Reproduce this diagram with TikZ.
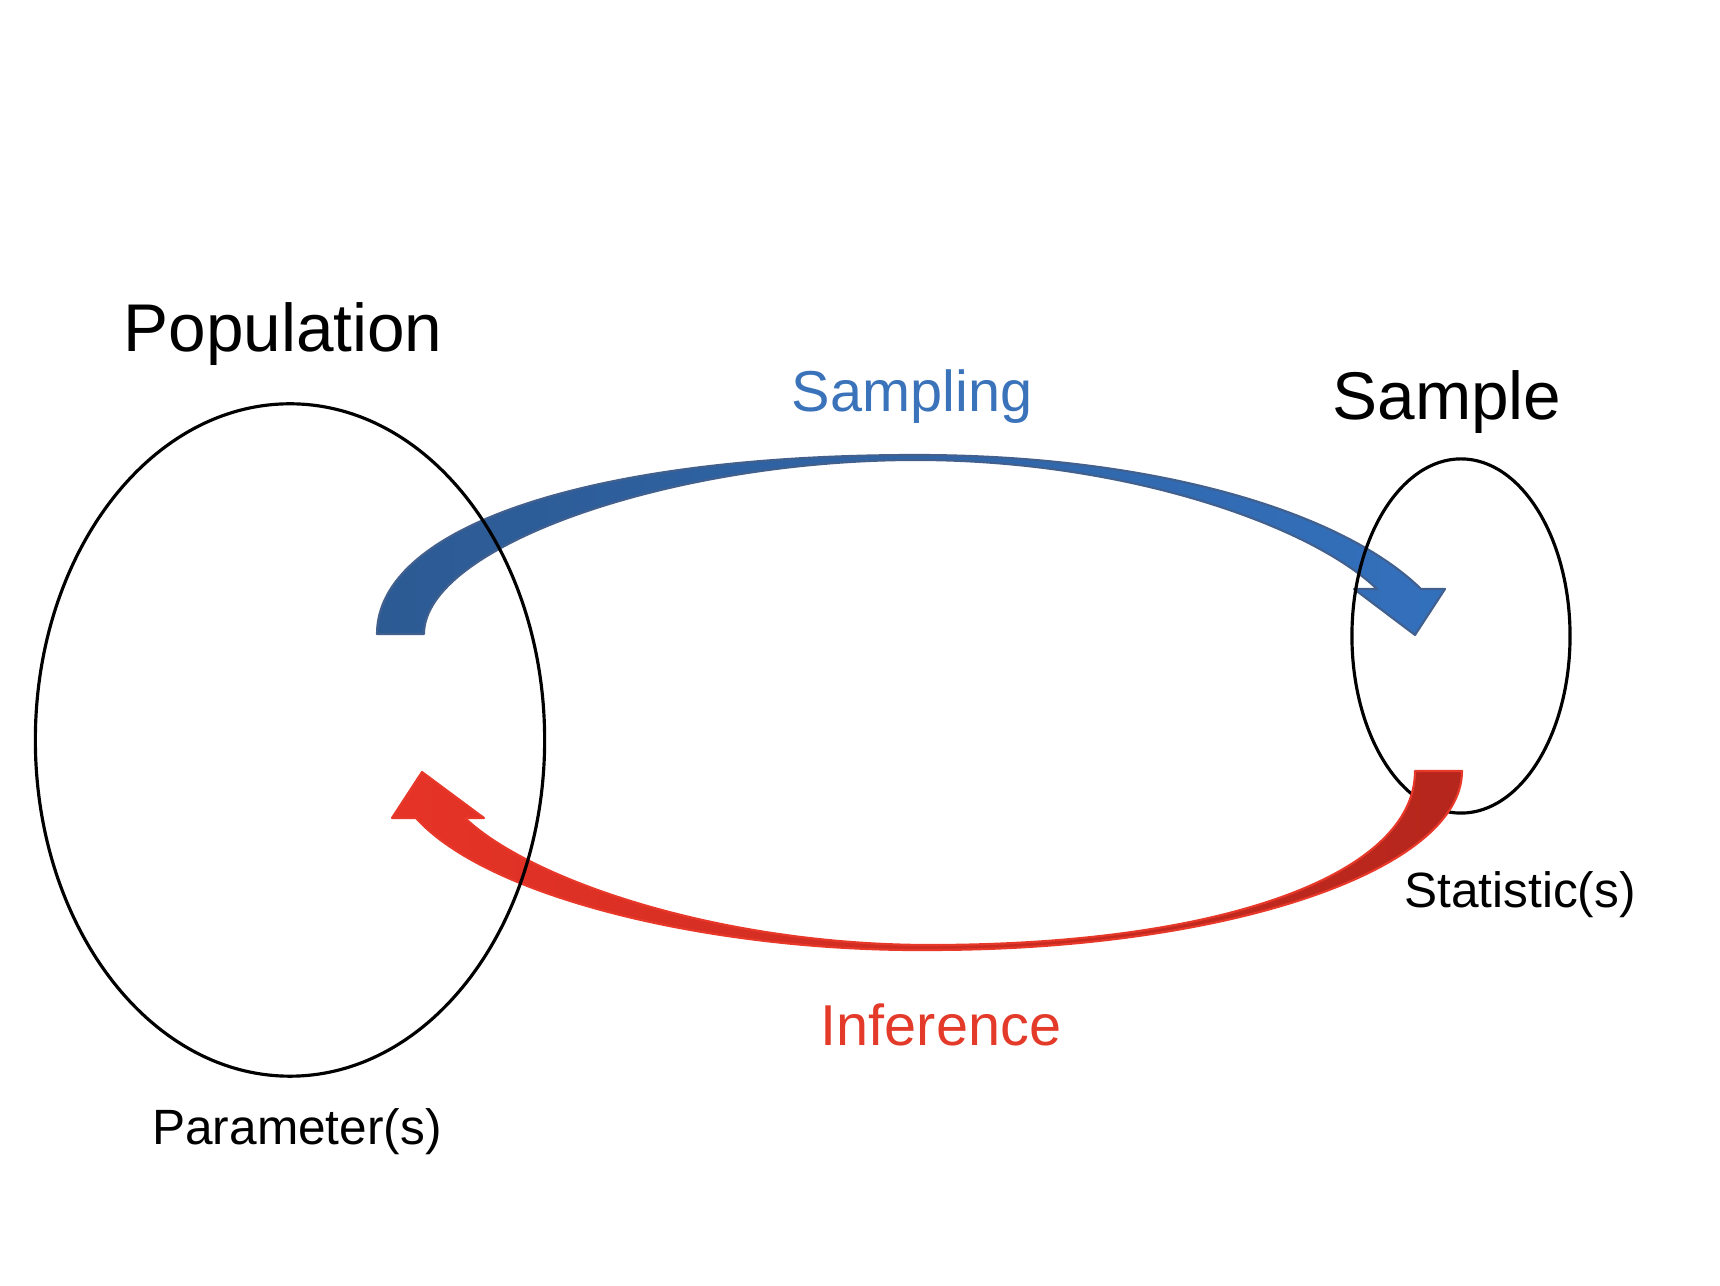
\documentclass[tikz,border=0pt]{standalone}
\usepackage{fontspec}
\setmainfont{Liberation Sans}
\usetikzlibrary{shapes.geometric}
\definecolor{bluedark}{HTML}{2C5A93}
\definecolor{bluelight}{HTML}{3370BC}
\definecolor{blueedge}{HTML}{41608E}
\definecolor{redbright}{HTML}{E63327}
\definecolor{reddark}{HTML}{B5261C}
\definecolor{rededge}{HTML}{E8382A}
\definecolor{sampletext}{HTML}{3A73BA}
\definecolor{infertext}{HTML}{E33A2A}
\tikzset{
  bigtitle/.style={anchor=base, inner sep=0pt, font=\fontsize{19.2pt}{23pt}\selectfont},
  arrowlabel/.style={anchor=base, inner sep=0pt, font=\fontsize{16.4pt}{20pt}\selectfont},
  smalllabel/.style={anchor=base, inner sep=0pt, font=\fontsize{14.1pt}{17pt}\selectfont},
  setshape/.style={ellipse, draw=black, line width=0.9pt, inner sep=0pt},
  bluearrow/.style={left color=bluedark, right color=bluelight, draw=blueedge, line width=0.6pt, line join=round},
  redarrow/.style={left color=redbright, middle color=redbright, right color=reddark, draw=rededge, line width=0.6pt, line join=round}
}
\begin{document}
\begin{tikzpicture}[x=0.01cm,y=-0.01cm]
\useasboundingbox (0,0) rectangle (1720,1286);

% Sampling arrow
\path[bluearrow] (377,634)
  .. controls (377,526) and (593,455) .. (916,455)
  .. controls (1150,455) and (1340,510) .. (1421,589)
  -- (1445,589) -- (1415,635) -- (1354,589) -- (1377,589)
  .. controls (1310,525) and (1125,460) .. (916,460)
  .. controls (670,460) and (424,547) .. (424,634)
  -- cycle;

% Sample ellipse
\node[setshape, minimum width=2.18cm, minimum height=3.54cm] (sample) at (1461,636) {};

% Inference arrow
\path[redarrow] (1415,771) -- (1462,771)
  .. controls (1462,870) and (1228,950) .. (930,950)
  .. controls (720,952) and (490,900) .. (416,818)
  -- (392,818) -- (422,772) -- (484,818) -- (465,818)
  .. controls (530,880) and (720,945) .. (930,945)
  .. controls (1221,945) and (1415,875) .. (1415,771)
  -- cycle;

% Population ellipse
\node[setshape, minimum width=5.09cm, minimum height=6.72cm] (population) at (290,740) {};

% Labels
\node[bigtitle] (poptitle) at (283,352) {Population};
\node[bigtitle] (samptitle) at (1447,420) {Sample};
\node[arrowlabel, text=sampletext] (sampling) at (912,412) {Sampling};
\node[arrowlabel, text=infertext] (inference) at (941,1046) {Inference};
\node[smalllabel] (params) at (297,1145) {Parameter(s)};
\node[smalllabel] (stats) at (1520,908) {Statistic(s)};
\end{tikzpicture}
\end{document}
